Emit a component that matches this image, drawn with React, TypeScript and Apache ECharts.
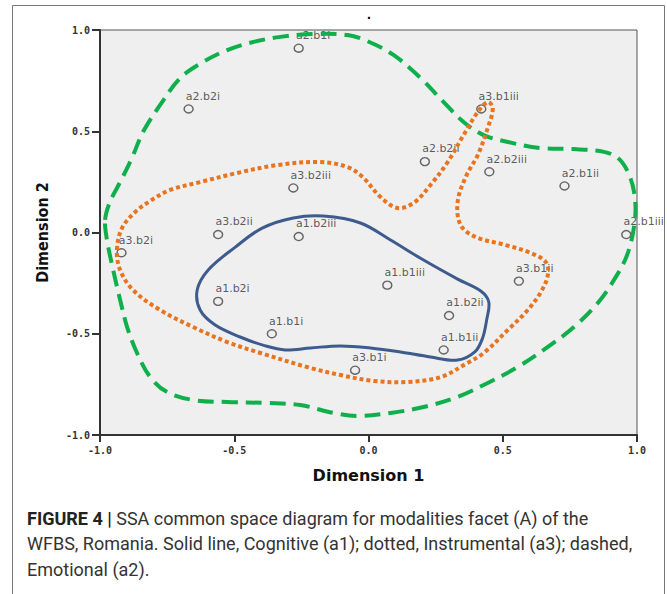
import React, { useEffect, useRef } from "react";
import * as echarts from "echarts";

// Point labels and their common-space coordinates (Dimension 1, Dimension 2)
const pointNames = [
  "a2.b1i", "a2.b2i", "a3.b2iii", "a3.b2ii", "a1.b2iii", "a3.b2i",
  "a1.b2i", "a1.b1i", "a3.b1i", "a1.b1ii", "a1.b2ii", "a1.b1iii",
  "a3.b1ii", "a2.b1iii", "a3.b1iii", "a2.b2ii", "a2.b2iii", "a2.b1ii",
];
const dim1 = [
  -0.26, -0.67, -0.28, -0.56, -0.26, -0.92,
  -0.56, -0.36, -0.05, 0.28, 0.30, 0.07,
  0.56, 0.96, 0.42, 0.21, 0.45, 0.73,
];
const dim2 = [
  0.91, 0.61, 0.22, -0.01, -0.02, -0.10,
  -0.34, -0.50, -0.68, -0.58, -0.41, -0.26,
  -0.24, -0.01, 0.61, 0.35, 0.30, 0.23,
];

// Region boundaries (closed loops) in the same coordinates
const cognitiveRegion: number[][] = [
  [-0.168, 0.081], [-0.03, 0.047], [0.082, -0.037], [0.205, -0.136],
  [0.332, -0.23], [0.418, -0.289], [0.448, -0.343], [0.44, -0.432],
  [0.425, -0.521], [0.396, -0.59], [0.332, -0.63], [0.231, -0.615],
  [0.119, -0.59], [0.007, -0.57], [-0.104, -0.56], [-0.216, -0.57],
  [-0.31, -0.58], [-0.384, -0.56], [-0.478, -0.516], [-0.571, -0.457],
  [-0.627, -0.383], [-0.638, -0.284], [-0.597, -0.185], [-0.496, -0.072],
  [-0.396, 0.022], [-0.28, 0.072],
];
const instrumentalRegion: number[][] = [
  [-0.937, -0.086], [-0.918, 0.022], [-0.869, 0.101], [-0.813, 0.156],
  [-0.739, 0.21], [-0.627, 0.249], [-0.489, 0.294], [-0.34, 0.333],
  [-0.179, 0.348], [-0.078, 0.323], [-0.022, 0.274], [0.045, 0.175],
  [0.108, 0.121], [0.168, 0.146], [0.231, 0.235], [0.295, 0.348],
  [0.354, 0.481], [0.407, 0.595], [0.444, 0.644], [0.463, 0.615],
  [0.444, 0.516], [0.407, 0.383], [0.362, 0.274], [0.332, 0.151],
  [0.343, 0.037], [0.399, -0.022], [0.511, -0.062], [0.604, -0.101],
  [0.66, -0.146], [0.668, -0.21], [0.642, -0.294], [0.593, -0.383],
  [0.519, -0.481], [0.429, -0.595], [0.362, -0.649], [0.269, -0.714],
  [0.146, -0.738], [0.019, -0.733], [-0.104, -0.704], [-0.216, -0.669],
  [-0.403, -0.595], [-0.526, -0.541], [-0.653, -0.467], [-0.776, -0.383],
  [-0.877, -0.284], [-0.925, -0.185],
];
const emotionalRegion: number[][] = [
  [-0.981, 0.062], [-0.963, 0.151], [-0.925, 0.249], [-0.881, 0.368],
  [-0.84, 0.496], [-0.776, 0.63], [-0.701, 0.763], [-0.616, 0.842],
  [-0.526, 0.901], [-0.429, 0.941], [-0.328, 0.966], [-0.205, 0.98],
  [-0.078, 0.975], [-0.004, 0.945], [0.093, 0.877], [0.194, 0.763],
  [0.28, 0.644], [0.354, 0.546], [0.429, 0.481], [0.519, 0.447],
  [0.642, 0.417], [0.765, 0.412], [0.877, 0.398], [0.929, 0.368],
  [0.966, 0.299], [0.989, 0.2], [0.993, 0.072], [0.966, -0.101],
  [0.914, -0.235], [0.854, -0.348], [0.765, -0.467], [0.668, -0.565],
  [0.556, -0.664], [0.444, -0.743], [0.332, -0.812], [0.205, -0.862],
  [0.082, -0.891], [-0.041, -0.906], [-0.131, -0.891], [-0.254, -0.852],
  [-0.377, -0.842], [-0.526, -0.837], [-0.653, -0.827], [-0.75, -0.788],
  [-0.813, -0.714], [-0.862, -0.595], [-0.899, -0.467], [-0.925, -0.333],
  [-0.951, -0.185], [-0.974, -0.037],
];

const captionLines = [
  "{b|FIGURE 4 |} SSA common space diagram for modalities facet (A) of the",
  "WFBS, Romania. Solid line, Cognitive (a1); dotted, Instrumental (a3); dashed,",
  "Emotional (a2).",
];

// Closed, smoothed boundary drawn through the cartesian scales
function regionSeries(name: string, pts: number[][], color: string, width: number, dash: number[] | null) {
  return {
    type: "custom",
    name,
    coordinateSystem: "cartesian2d",
    data: pts,
    encode: { x: 0, y: 1 },
    silent: true,
    z: 5,
    renderItem: (params: any, api: any) => {
      if (params.dataIndex !== 0) return null;
      const points = pts.map((p) => api.coord(p));
      return {
        type: "polygon",
        shape: { points, smooth: 0.35 },
        style: {
          fill: "none",
          stroke: color,
          lineWidth: width,
          lineDash: dash || undefined,
          lineCap: "butt",
          lineJoin: "round",
        },
      };
    },
  };
}

export default function App() {
  const ref = useRef<HTMLDivElement>(null);

  useEffect(() => {
    if (!ref.current) return;
    const chart = echarts.init(ref.current, null, { renderer: "svg" });

    const tickLabel = {
      color: "#333",
      fontSize: 10,
      fontWeight: "bold",
      fontFamily: "'DejaVu Sans Mono', monospace",
      formatter: (v: number) => v.toFixed(1),
    };

    chart.setOption({
      animation: false,
      backgroundColor: "#ffffff",
      title: {
        text: ".",
        left: 362,
        top: 2,
        textStyle: { fontSize: 14, fontWeight: "bold", color: "#000" },
      },
      grid: {
        left: 100,
        top: 30,
        right: 30,
        bottom: 159,
        show: true,
        backgroundColor: "#efefef",
        borderColor: "#555",
        borderWidth: 1,
      },
      xAxis: {
        type: "value",
        min: -1,
        max: 1,
        interval: 0.5,
        name: "Dimension 1",
        nameLocation: "middle",
        nameGap: 32,
        nameTextStyle: {
          fontFamily: "'DejaVu Sans', sans-serif",
          fontWeight: "bold",
          fontSize: 16,
          color: "#111",
        },
        axisLine: { onZero: false, lineStyle: { color: "#333", width: 2 } },
        axisTick: { inside: false, length: 7, lineStyle: { color: "#333", width: 2 } },
        axisLabel: { ...tickLabel, margin: 10 },
        splitLine: { show: false },
      },
      yAxis: {
        type: "value",
        min: -1,
        max: 1,
        interval: 0.5,
        name: "Dimension 2",
        nameLocation: "middle",
        nameGap: 50,
        nameRotate: 90,
        nameTextStyle: {
          fontFamily: "'Liberation Sans Narrow', 'DejaVu Sans Condensed', sans-serif",
          fontWeight: "bold",
          fontSize: 16,
          color: "#111",
        },
        axisLine: { onZero: false, lineStyle: { color: "#333", width: 2 } },
        axisTick: { inside: false, length: 8, lineStyle: { color: "#333", width: 2 } },
        axisLabel: { ...tickLabel, margin: 10 },
        splitLine: { show: false },
      },
      series: [
        {
          type: "scatter",
          name: "modalities",
          z: 3,
          symbol: "circle",
          symbolSize: [9, 8],
          itemStyle: { color: "rgba(0,0,0,0)", borderColor: "#444", borderWidth: 1.4 },
          data: pointNames.map((n, i) => ({ name: n, value: [dim1[i], dim2[i]] })),
          label: {
            show: true,
            formatter: (p: any) => p.name,
            position: [2.5, -8],
            align: "left",
            verticalAlign: "middle",
            color: "#333",
            fontSize: 11,
            fontFamily: "'DejaVu Sans', sans-serif",
          },
        },
        regionSeries("Emotional (a2)", emotionalRegion, "#0fb04c", 4, [16, 8]),
        regionSeries("Instrumental (a3)", instrumentalRegion, "#e8741f", 4, [4, 3]),
        regionSeries("Cognitive (a1)", cognitiveRegion, "#3d5b8c", 3, null),
      ],
      graphic: [
        {
          type: "rect",
          shape: { x: 12.5, y: 5.5, width: 652, height: 610 },
          style: { fill: "none", stroke: "#777", lineWidth: 1 },
          silent: true,
        },
        ...captionLines.map((line, i) => ({
          type: "text",
          left: 27,
          top: 509 + i * 25.5,
          style: {
            text: line,
            fill: "#333",
            fontSize: 18,
            fontFamily: "Roboto, sans-serif",
            rich: {
              b: { fontWeight: "bold", fontSize: 18, fontFamily: "Roboto, sans-serif", fill: "#222" },
            },
          },
        })),
      ],
    });

    return () => chart.dispose();
  }, []);

  return (
    <div
      ref={ref}
      style={{ position: "absolute", left: 0, top: 0, width: 667, height: 594 }}
    />
  );
}
